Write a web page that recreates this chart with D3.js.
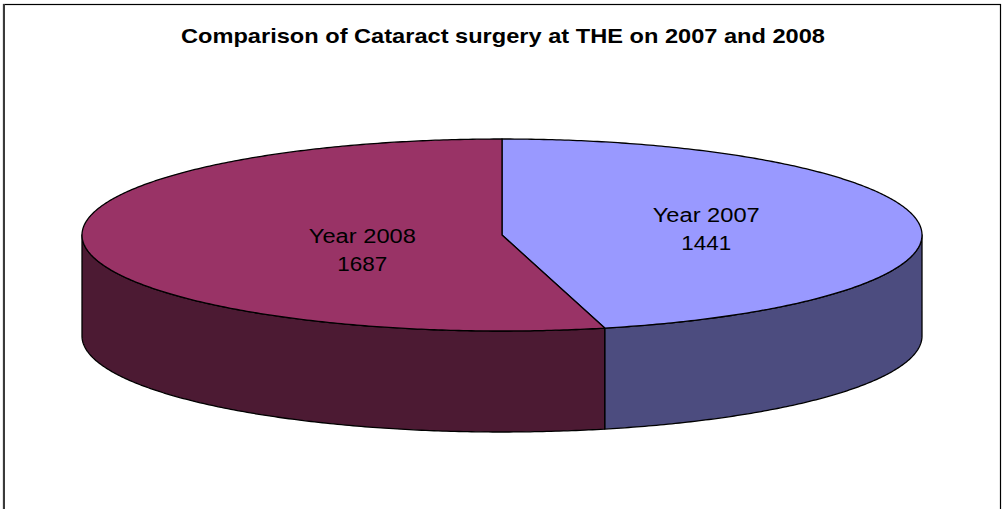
<!DOCTYPE html>
<html>
<head>
<meta charset="utf-8">
<script src="https://cdn.jsdelivr.net/npm/d3@7"></script>
<style>
  html, body { margin: 0; padding: 0; background: #fff; }
  svg { display: block; }
</style>
</head>
<body>
<svg id="chart" width="1003" height="509"></svg>
<script>
// ---- data ----
const categories = ["Year 2007", "Year 2008"];
const values = [1441, 1687];
const titleText = "Comparison of Cataract surgery at THE on 2007 and 2008";

// ---- styles / layout ----
const topColors = ["#9999FF", "#993366"];
const sideColors = ["#4C4C7F", "#4C1A33"];
const W = 1003, H = 509;
const cx = 502, cy = 235, rx = 420, ry = 96, depth = 101;
const labelFactor = [0.49, 0.335];
const labelDy = [-2, 9];

const svg = d3.select("#chart");

// frame
svg.append("rect").attr("x", 3.5).attr("y", 4.5).attr("width", 997).attr("height", 520)
  .attr("fill", "#fff").attr("stroke", "#000").attr("stroke-width", 1.2);
svg.append("line").attr("x1", 4).attr("x2", 4).attr("y1", 4).attr("y2", H)
  .attr("stroke", "#3a3a3a").attr("stroke-width", 2);

// title
svg.append("text")
  .attr("x", 503).attr("y", 43)
  .attr("text-anchor", "middle")
  .attr("font-family", "Liberation Sans, Arial, sans-serif")
  .attr("font-weight", "bold")
  .attr("font-size", 21)
  .attr("textLength", 644)
  .attr("lengthAdjust", "spacingAndGlyphs")
  .text(titleText);

const pie = d3.pie().sort(null).startAngle(0).endAngle(2 * Math.PI);
const arcs = pie(values);

// angle measured clockwise from 12 o'clock
const px = a => cx + rx * Math.sin(a);
const py = (a, dz = 0) => cy - ry * Math.cos(a) + dz;

function arcPoints(a0, a1, dz) {
  const n = Math.max(2, Math.ceil(Math.abs(a1 - a0) / 0.01));
  const pts = [];
  for (let i = 0; i <= n; i++) {
    const a = a0 + (a1 - a0) * i / n;
    pts.push([px(a), py(a, dz)]);
  }
  return pts;
}

const line = d3.line();

// side walls (only the front half: angles between PI/2 and 3PI/2)
const g = svg.append("g");
arcs.forEach((d, i) => {
  const a0 = Math.max(d.startAngle, Math.PI / 2);
  const a1 = Math.min(d.endAngle, 3 * Math.PI / 2);
  if (a1 <= a0) return;
  const topPts = arcPoints(a0, a1, 0);
  const botPts = arcPoints(a1, a0, depth);
  g.append("path")
    .attr("d", line(topPts.concat(botPts)) + "Z")
    .attr("fill", sideColors[i])
    .attr("stroke", "#000")
    .attr("stroke-width", 1.3)
    .attr("stroke-linejoin", "round");
});

// top faces
arcs.forEach((d, i) => {
  const pts = [[cx, cy]].concat(arcPoints(d.startAngle, d.endAngle, 0));
  g.append("path")
    .attr("d", line(pts) + "Z")
    .attr("fill", topColors[i])
    .attr("stroke", "#000")
    .attr("stroke-width", 1.3)
    .attr("stroke-linejoin", "round");
});

// labels
arcs.forEach((d, i) => {
  const mid = (d.startAngle + d.endAngle) / 2;
  const lx = cx + labelFactor[i] * rx * Math.sin(mid);
  const ly = cy - labelFactor[i] * ry * Math.cos(mid) + labelDy[i];
  const t = g.append("text")
    .attr("text-anchor", "middle")
    .attr("font-family", "Liberation Sans, Arial, sans-serif")
    .attr("font-size", 20)
    .attr("fill", "#000");
  t.append("tspan").attr("x", lx).attr("y", ly - 5)
    .attr("textLength", 107).attr("lengthAdjust", "spacingAndGlyphs")
    .text(categories[i]);
  t.append("tspan").attr("x", lx).attr("y", ly + 23)
    .attr("textLength", 50).attr("lengthAdjust", "spacingAndGlyphs")
    .text(values[i]);
});
</script>
</body>
</html>
